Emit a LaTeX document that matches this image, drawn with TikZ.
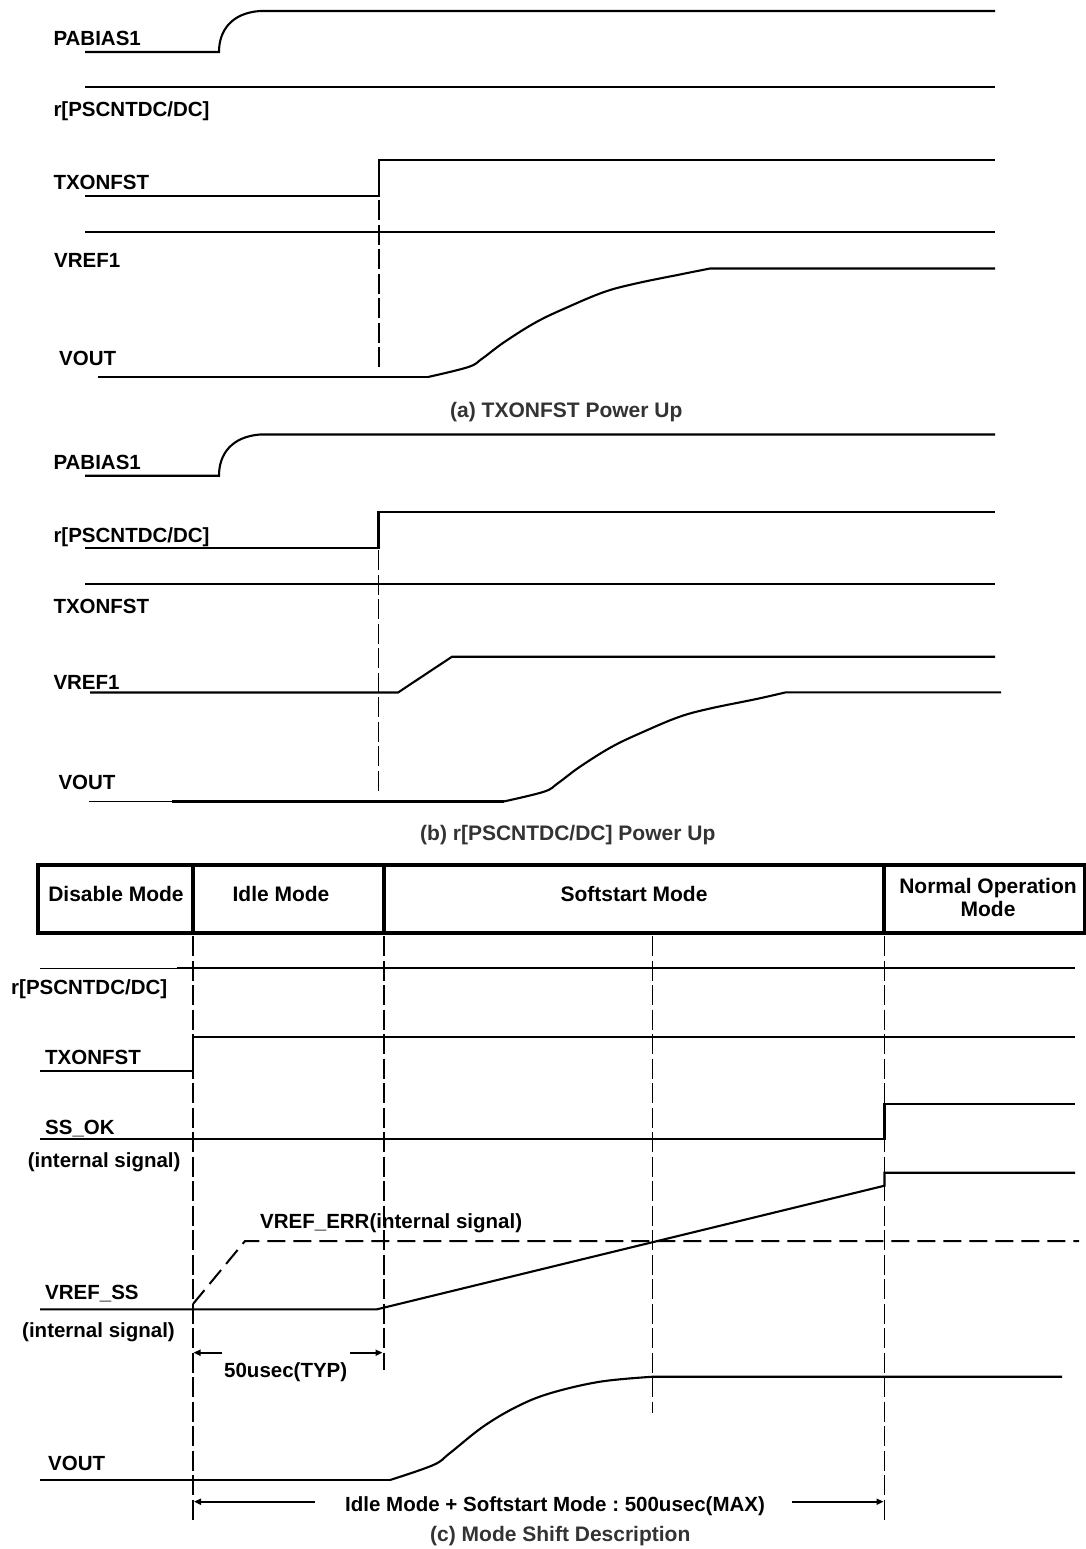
\documentclass[tikz,border=0pt]{standalone}
\usepackage{fontspec}
\setmainfont{Liberation Sans}
\usetikzlibrary{arrows.meta}
\frenchspacing
\begin{document}
\begin{tikzpicture}[x=1pt,y=-1pt,
  sig/.style={line width=2.1pt, line join=miter},
  thinsig/.style={line width=1.2pt},
  vguide/.style={line width=1.9pt, dash pattern=on 20pt off 4.5pt},
  errdash/.style={line width=2pt, dash pattern=on 18pt off 8pt},
  border/.style={line width=3.8pt},
  dim/.style={line width=1.8pt, -{Triangle[length=7pt,width=6pt]}},
  lbl/.style={anchor=west, inner sep=0pt, font=\fontsize{20.5}{24}\selectfont\bfseries, text height=14.7pt, text depth=0pt},
  captxt/.style={anchor=west, inner sep=0pt, font=\fontsize{21}{25}\selectfont\bfseries, text=black!80, text height=15pt, text depth=0pt},
  cell/.style={inner sep=0pt, font=\fontsize{21}{24}\selectfont\bfseries, text height=15pt, text depth=0pt}]
\useasboundingbox (0,0) rectangle (1086,1549);
\fill[white] (0,0) rectangle (1086,1549);

% ================= (a) =================
\node[lbl] (aPA) at (53.3,37.7) {PABIAS1};
\node[lbl] (aR) at (53.3,109) {r[PSCNTDC/DC]};
\node[lbl] (aTX) at (53.3,182) {TXONFST};
\node[lbl] (aVR) at (54,260) {VREF1};
\node[lbl] (aVO) at (59,358) {VOUT};
\node[captxt] (capA) at (450,410) {(a) TXONFST Power Up};

\draw[sig] (85,52) -- (219,52) .. controls (219,30) and (232,13) .. (260,11) -- (995,11);
\draw[sig] (85,87) -- (995,87);
\draw[sig] (85,196) -- (379,196) -- (379,160) -- (995,160);
\draw[sig] (85,232) -- (995,232);
\draw[sig] (98,377) -- (428,377);
\draw[sig] plot[smooth, tension=0.6] coordinates {(428,377) (468.4,367) (482.2,358.6) (504.4,342) (536.4,322) (568,307) (604.1,292) (635.4,283.6) (680.9,274.3) (710,268.5)} -- (995,268.5);
\draw[vguide] (379,200) -- (379,368);

% ================= (b) =================
\node[lbl] (bPA) at (53.3,462.2) {PABIAS1};
\node[lbl] (bR) at (53.3,534.7) {r[PSCNTDC/DC]};
\node[lbl] (bTX) at (53.3,605.8) {TXONFST};
\node[lbl] (bVR) at (53.3,682.5) {VREF1};
\node[lbl] (bVO) at (58.3,781.7) {VOUT};
\node[captxt] (capB) at (420,833) {(b) r[PSCNTDC/DC] Power Up};

\draw[sig] (85,475.7) -- (219,475.7) .. controls (219,453.7) and (232,436.7) .. (260,434.5) -- (995,434.5);
\draw[sig] (85,547.7) -- (378.5,547.7) -- (378.5,511.7) -- (995,511.7);
\draw[sig] (85,584) -- (995,584);
\draw[sig] (90,692.5) -- (398,692.5) -- (452,656.7) -- (995,656.7);
\draw[thinsig] (89,801.5) -- (172,801.5);
\draw[sig] (172,801.5) -- (503.6,801.5);
\draw[sig] plot[smooth, tension=0.6] coordinates {(503.6,801.5) (544,791.7) (557.8,783.3) (580,766.7) (612,746.7) (643.6,731.7) (679.7,716.7) (711,708.3) (756.5,699) (785.9,692.3)} -- (1001,692.3);
\draw[vguide] (378.5,550) -- (378.5,793);

% ================= (c) =================
% table
\draw[border] (38,865) rectangle (1084.5,933);
\draw[border] (193,865) -- (193,933);
\draw[border] (384,865) -- (384,933);
\draw[border] (884,865) -- (884,933);
\node[cell] (cDis) at (116,894) {Disable Mode};
\node[cell] (cIdle) at (281,894) {Idle Mode};
\node[cell] (cSoft) at (634,894) {Softstart Mode};
\node[cell] (cNorm1) at (988,886) {Normal Operation};
\node[cell] (cNorm2) at (988,909) {Mode};

% guides
\draw[vguide] (193,936) -- (193,1522);
\draw[vguide] (384,936) -- (384,1370);
\draw[vguide] (652.5,936) -- (652.5,1413);
\draw[vguide] (884.5,936) -- (884.5,1521);

% labels
\node[lbl] (cR) at (11,986.7) {r[PSCNTDC/DC]};
\node[lbl] (cTX) at (45,1057) {TXONFST};
\node[lbl] (cSS) at (45,1127) {SS\_OK};
\node[lbl] (cSSi) at (27.7,1160.3) {(internal signal)};
\node[lbl] (cERR) at (260,1221.3) {VREF\_ERR(internal signal)};
\node[lbl] (cVS) at (45,1292) {VREF\_SS};
\node[lbl] (cVSi) at (22,1329.7) {(internal signal)};
\node[lbl] (cTYP) at (224,1370) {50usec(TYP)};
\node[lbl] (cVO) at (48,1463) {VOUT};
\node[lbl] (cTot) at (345,1504.2) {Idle Mode + Softstart Mode : 500usec(MAX)};
\node[captxt] (capC) at (430,1534.2) {(c) Mode Shift Description};

% signals
\draw[thinsig] (40,968.3) -- (177,968.3);
\draw[sig] (177,968.3) -- (1075,968.3);
\draw[sig] (40,1070.7) -- (193,1070.7) -- (193,1036.7) -- (1075,1036.7);
\draw[sig] (40,1139) -- (884.5,1139) -- (884.5,1104.3) -- (1075,1104.3);
\draw[sig] (40,1309.3) -- (377,1309.3) -- (884.5,1185.7) -- (884.5,1172.7) -- (1075,1172.7);
\draw[errdash] (193,1304) -- (245,1241) -- (1079,1241);
\draw[sig] (40,1480) -- (390,1480);
\draw[sig] plot[smooth, tension=0.6] coordinates {(390,1480) (433.3,1465) (450,1453) (483,1426.7) (516.7,1406.7) (550,1393.3) (600,1381.7) (653,1376.7)} -- (1062,1376.7);

% dimension arrows
\coordinate (d1a) at (222,1352.7);
\coordinate (d1b) at (193.5,1352.7);
\coordinate (d1c) at (350,1352.7);
\coordinate (d1d) at (382.5,1352.7);
\draw[dim] (d1a) -- (d1b);
\draw[dim] (d1c) -- (d1d);
\coordinate (d2a) at (315,1501.7);
\coordinate (d2b) at (194,1501.7);
\coordinate (d2c) at (792,1501.7);
\coordinate (d2d) at (883.5,1501.7);
\draw[dim] (d2a) -- (d2b);
\draw[dim] (d2c) -- (d2d);
\end{tikzpicture}
\end{document}
